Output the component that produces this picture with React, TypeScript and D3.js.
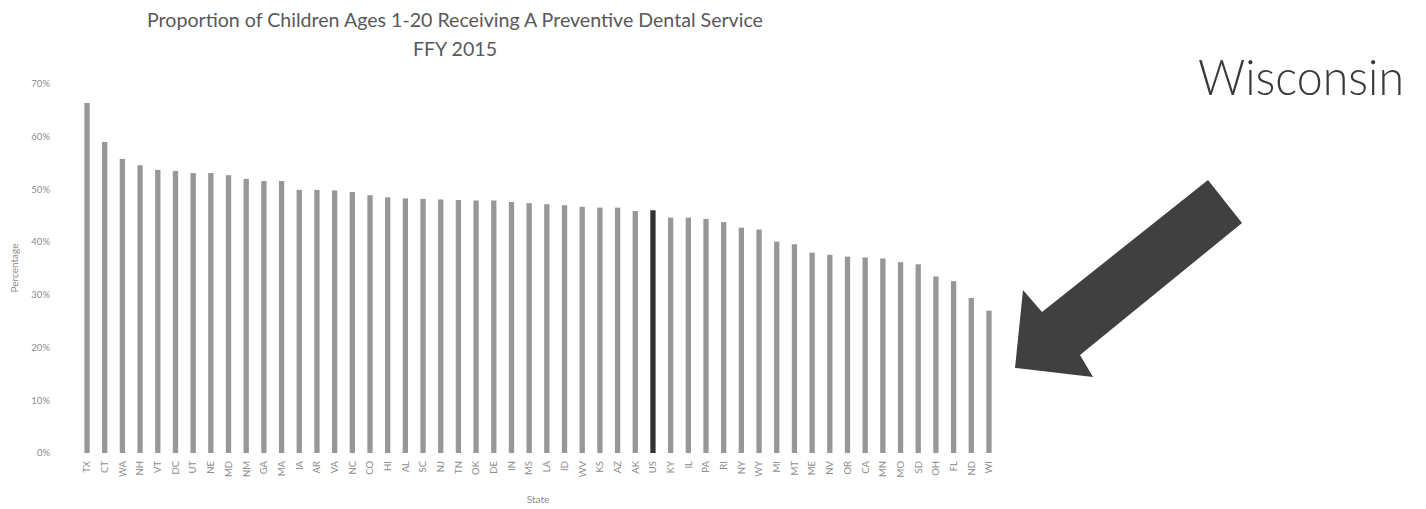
import React, { useEffect, useRef } from "react";
import * as d3 from "d3";

// FFY 2015 preventive dental service rates, sorted high to low
const states: string[] = [
  "TX", "CT", "WA", "NH", "VT", "DC", "UT", "NE", "MD", "NM", "GA", "MA", "IA",
  "AR", "VA", "NC", "CO", "HI", "AL", "SC", "NJ", "TN", "OK", "DE", "IN", "MS",
  "LA", "ID", "WV", "KS", "AZ", "AK", "US", "KY", "IL", "PA", "RI", "NY", "WY",
  "MI", "MT", "ME", "NV", "OR", "CA", "MN", "MO", "SD", "OH", "FL", "ND", "WI",
];

const rates: number[] = [
  0.664, 0.59, 0.558, 0.546, 0.537, 0.535, 0.531, 0.531, 0.527, 0.52, 0.516, 0.516, 0.499,
  0.499, 0.498, 0.495, 0.489, 0.485, 0.483, 0.482, 0.481, 0.48, 0.479, 0.479, 0.476, 0.474,
  0.472, 0.47, 0.467, 0.4655, 0.4655, 0.459, 0.4605, 0.4465, 0.4465, 0.444, 0.438, 0.4275, 0.424,
  0.401, 0.396, 0.38, 0.376, 0.3725, 0.371, 0.369, 0.362, 0.358, 0.335, 0.326, 0.294, 0.27,
];

const yTicks: number[] = [0, 0.1, 0.2, 0.3, 0.4, 0.5, 0.6, 0.7];

const titleLines: string[] = [
  "Proportion of Children Ages 1-20 Receiving A Preventive Dental Service",
  "FFY 2015",
];

const W = 1426;
const H = 509;

export default function App() {
  const ref = useRef<SVGSVGElement | null>(null);

  useEffect(() => {
    document.body.style.margin = "0";
    const svg = d3.select(ref.current);
    svg.selectAll("*").remove();

    const x = d3.scaleBand<string>().domain(states).range([72, 1004]).padding(0.7);
    const y = d3.scaleLinear().domain([0, 0.7]).range([453, 84]);
    const font = "Lato, 'Open Sans', sans-serif";

    // title
    svg
      .append("g")
      .selectAll("text")
      .data(titleLines)
      .join("text")
      .attr("x", 455)
      .attr("y", (_d, i) => (i === 0 ? 27 : 56))
      .attr("text-anchor", "middle")
      .attr("font-family", font)
      .attr("font-size", 19.6)
      .attr("fill", "#595959")
      .text((d) => d);

    // y tick labels
    svg
      .append("g")
      .selectAll("text")
      .data(yTicks)
      .join("text")
      .attr("x", 50)
      .attr("y", (d) => y(d))
      .attr("dy", "0.35em")
      .attr("text-anchor", "end")
      .attr("font-family", font)
      .attr("font-size", 9.5)
      .attr("fill", "#8c8c8c")
      .text((d) => d3.format(".0%")(d));

    // bars
    svg
      .append("g")
      .selectAll("rect")
      .data(states)
      .join("rect")
      .attr("x", (d) => x(d) as number)
      .attr("width", x.bandwidth())
      .attr("y", (_d, i) => y(rates[i]))
      .attr("height", (_d, i) => y(0) - y(rates[i]))
      .attr("fill", (d) => (d === "US" ? "#333333" : "#979797"));

    // state labels
    svg
      .append("g")
      .selectAll("text")
      .data(states)
      .join("text")
      .attr(
        "transform",
        (d) => `translate(${(x(d) as number) + x.bandwidth() / 2},461) rotate(-90)`
      )
      .attr("dy", "0.35em")
      .attr("text-anchor", "end")
      .attr("font-family", font)
      .attr("font-size", 9.5)
      .attr("fill", "#8c8c8c")
      .text((d) => d);

    // axis titles
    svg
      .append("text")
      .attr("transform", "translate(14,268) rotate(-90)")
      .attr("text-anchor", "middle")
      .attr("dy", "0.35em")
      .attr("font-family", font)
      .attr("font-size", 10)
      .attr("fill", "#8c8c8c")
      .text("Percentage");

    svg
      .append("text")
      .attr("x", 538)
      .attr("y", 503)
      .attr("text-anchor", "middle")
      .attr("font-family", font)
      .attr("font-size", 10)
      .attr("fill", "#8c8c8c")
      .text("State");

    // callout
    svg
      .append("text")
      .attr("x", 1198)
      .attr("y", 95)
      .attr("font-family", font)
      .attr("font-size", 50)
      .attr("font-weight", 300)
      .attr("textLength", 206)
      .attr("lengthAdjust", "spacingAndGlyphs")
      .attr("fill", "#3a3a3a")
      .text("Wisconsin");

    const arrow: [number, number][] = [
      [1208, 180],
      [1242, 223],
      [1080, 355],
      [1093, 377],
      [1015, 368],
      [1023, 290],
      [1042, 312],
    ];
    svg
      .append("path")
      .attr("d", d3.line()(arrow) + "Z")
      .attr("fill", "#404040");
  }, []);

  return (
    <svg
      ref={ref}
      width={W}
      height={H}
      style={{ position: "absolute", left: 0, top: 0, background: "#fff" }}
    />
  );
}
